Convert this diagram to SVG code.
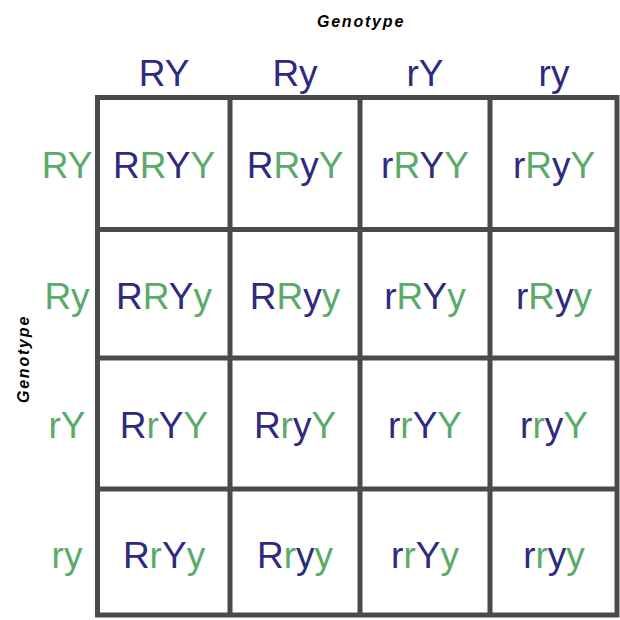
<svg xmlns="http://www.w3.org/2000/svg" width="620" height="620" viewBox="0 0 620 620">
<style>
text{font-family:"Liberation Sans",Arial,sans-serif;font-size:37px;text-anchor:middle}
.n{fill:#2e2a7f}.g{fill:#5aaa6a}
.t{font-size:16px;font-weight:bold;font-style:italic;fill:#000;letter-spacing:1.8px}
.grid{stroke:#4a4a4a;stroke-width:5;fill:none}
</style>
<rect width="620" height="620" fill="#fff"/>
<g id="grid" class="grid">
<rect x="97.5" y="97.5" width="519.5" height="517.5"/>
<path d="M230 97.5V615M360 97.5V615M490 97.5V615M97.5 229.5H617M97.5 358H617M97.5 489H617"/>
</g>
<text class="t" x="361" y="27">Genotype</text>
<text class="t" transform="translate(29,359) rotate(-90)">Genotype</text>
<g id="cols" class="n">
<text x="164" y="86">RY</text><text x="295" y="86">Ry</text><text x="425" y="86">rY</text><text x="554" y="86">ry</text>
</g>
<g id="rows" class="g">
<text x="67" y="178">RY</text><text x="67" y="309">Ry</text><text x="67" y="438">rY</text><text x="67" y="568">ry</text>
</g>
<g id="cells">
<text x="164" y="178"><tspan class="n">R</tspan><tspan class="g">R</tspan><tspan class="n">Y</tspan><tspan class="g">Y</tspan></text>
<text x="295" y="178"><tspan class="n">R</tspan><tspan class="g">R</tspan><tspan class="n">y</tspan><tspan class="g">Y</tspan></text>
<text x="425" y="178"><tspan class="n">r</tspan><tspan class="g">R</tspan><tspan class="n">Y</tspan><tspan class="g">Y</tspan></text>
<text x="554" y="178"><tspan class="n">r</tspan><tspan class="g">R</tspan><tspan class="n">y</tspan><tspan class="g">Y</tspan></text>
<text x="164" y="309"><tspan class="n">R</tspan><tspan class="g">R</tspan><tspan class="n">Y</tspan><tspan class="g">y</tspan></text>
<text x="295" y="309"><tspan class="n">R</tspan><tspan class="g">R</tspan><tspan class="n">y</tspan><tspan class="g">y</tspan></text>
<text x="425" y="309"><tspan class="n">r</tspan><tspan class="g">R</tspan><tspan class="n">Y</tspan><tspan class="g">y</tspan></text>
<text x="554" y="309"><tspan class="n">r</tspan><tspan class="g">R</tspan><tspan class="n">y</tspan><tspan class="g">y</tspan></text>
<text x="164" y="438"><tspan class="n">R</tspan><tspan class="g">r</tspan><tspan class="n">Y</tspan><tspan class="g">Y</tspan></text>
<text x="295" y="438"><tspan class="n">R</tspan><tspan class="g">r</tspan><tspan class="n">y</tspan><tspan class="g">Y</tspan></text>
<text x="425" y="438"><tspan class="n">r</tspan><tspan class="g">r</tspan><tspan class="n">Y</tspan><tspan class="g">Y</tspan></text>
<text x="554" y="438"><tspan class="n">r</tspan><tspan class="g">r</tspan><tspan class="n">y</tspan><tspan class="g">Y</tspan></text>
<text x="164" y="568"><tspan class="n">R</tspan><tspan class="g">r</tspan><tspan class="n">Y</tspan><tspan class="g">y</tspan></text>
<text x="295" y="568"><tspan class="n">R</tspan><tspan class="g">r</tspan><tspan class="n">y</tspan><tspan class="g">y</tspan></text>
<text x="425" y="568"><tspan class="n">r</tspan><tspan class="g">r</tspan><tspan class="n">Y</tspan><tspan class="g">y</tspan></text>
<text x="554" y="568"><tspan class="n">r</tspan><tspan class="g">r</tspan><tspan class="n">y</tspan><tspan class="g">y</tspan></text>
</g>
</svg>
